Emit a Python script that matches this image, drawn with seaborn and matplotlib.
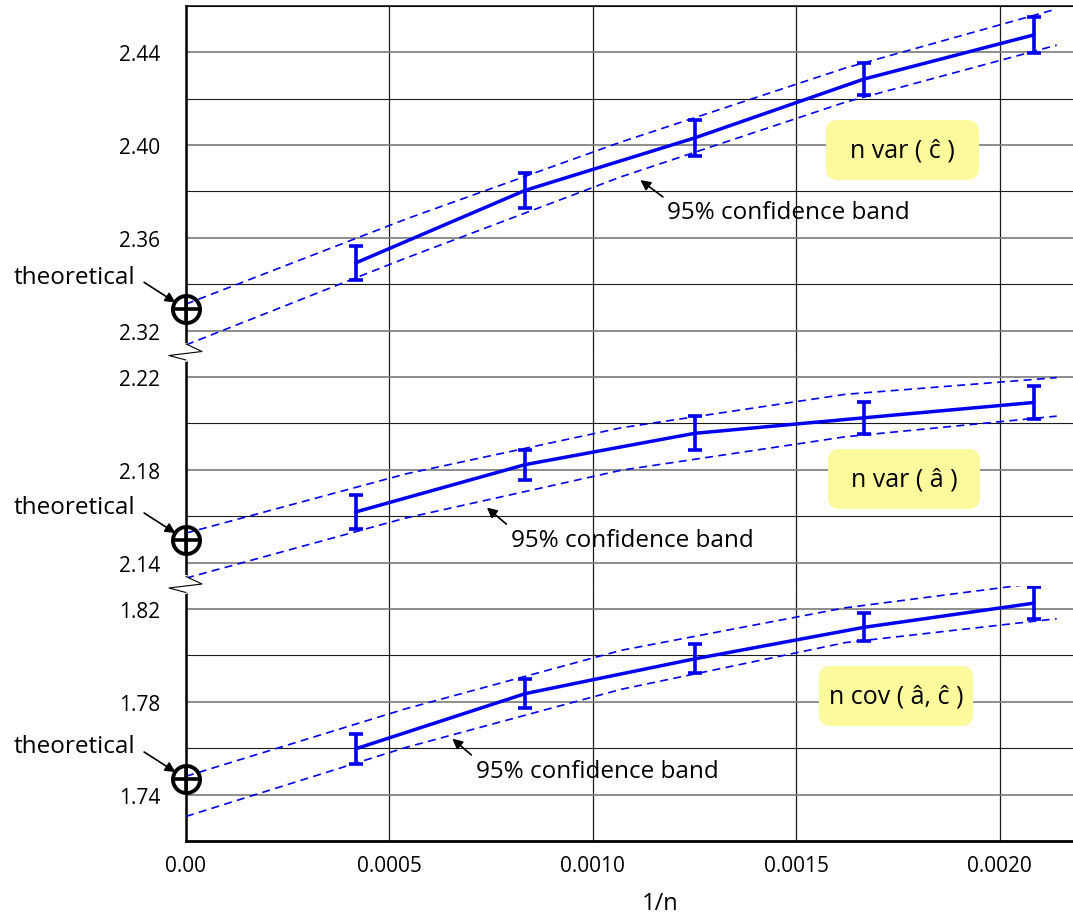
import matplotlib
matplotlib.use("Agg")
import matplotlib.pyplot as plt
from matplotlib.patches import FancyBboxPatch
from matplotlib.lines import Line2D
from matplotlib.ticker import FixedLocator, MultipleLocator
import seaborn as sns

# ---- data -------------------------------------------------------------
# 1/n for sample sizes n = 2400, 1200, 800, 600, 480
inv_n = [1 / 2400, 1 / 1200, 1 / 800, 1 / 600, 1 / 480]

var_c = [2.3491, 2.3804, 2.4030, 2.4284, 2.4474]
var_c_err = [0.0073, 0.0074, 0.0077, 0.0071, 0.0077]
var_a = [2.1618, 2.1822, 2.1957, 2.2024, 2.2090]
var_a_err = [0.0072, 0.0065, 0.0073, 0.0068, 0.0073]
cov_ac = [1.7597, 1.7835, 1.7985, 1.8121, 1.8225]
cov_ac_err = [0.0065, 0.0063, 0.0063, 0.0060, 0.0068]

theory_var_c = 2.3292
theory_var_a = 2.1498
theory_cov_ac = 1.7468

# 95% confidence band, sampled along 1/n
band_x = [0.0, 0.00054, 0.00107, 0.00162, 0.00214]
var_c_upper = [2.3314, 2.3680, 2.4013, 2.4331, 2.4586]
var_c_lower = [2.3138, 2.3512, 2.3863, 2.4184, 2.4430]
var_a_upper = [2.1527, 2.1782, 2.1981, 2.2125, 2.2197]
var_a_lower = [2.1333, 2.1592, 2.1798, 2.1942, 2.2031]
cov_ac_upper = [1.7479, 1.7770, 1.8022, 1.8205, 1.8322]
cov_ac_lower = [1.7306, 1.7603, 1.7854, 1.8055, 1.8158]

panel_labels = ["n var ( ĉ )", "n var ( â )", "n cov ( â, ĉ )"]
ylims = [(2.31, 2.46), (2.13, 2.23), (1.72, 1.83)]
yticks = [[2.32, 2.36, 2.40, 2.44], [2.14, 2.18, 2.22], [1.74, 1.78, 1.82]]
xticks = [0.0, 0.0005, 0.0010, 0.0015, 0.0020]
xtick_labels = ["0.00", "0.0005", "0.0010", "0.0015", "0.0020"]

# ---- style ------------------------------------------------------------
sns.set_theme(style="white")
plt.rcParams["font.family"] = ["Open Sans", "DejaVu Sans"]
plt.rcParams.update({
    "text.color": "black",
    "axes.labelcolor": "black",
    "xtick.color": "black",
    "ytick.color": "black",
})

W, H, DPI = 1073, 920, 100
BLUE = "#0000f0"


def fig_xy(px, py):
    """Canvas pixel (origin top-left) -> figure fraction."""
    return px / W, 1 - py / H


fig = plt.figure(figsize=(W / DPI, H / DPI), dpi=DPI)
gs = fig.add_gridspec(
    3, 1,
    height_ratios=[lim[1] - lim[0] for lim in ylims],
    left=186 / W, right=1.0, top=1 - 6.7 / H, bottom=1 - 842 / H, hspace=0,
)
axes = [fig.add_subplot(gs[0])]
axes += [fig.add_subplot(gs[i], sharex=axes[0]) for i in (1, 2)]

series = [
    (var_c, var_c_err, theory_var_c, var_c_upper, var_c_lower),
    (var_a, var_a_err, theory_var_a, var_a_upper, var_a_lower),
    (cov_ac, cov_ac_err, theory_cov_ac, cov_ac_upper, cov_ac_lower),
]

for i, (ax, (vals, errs, theo, upper, lower)) in enumerate(zip(axes, series)):
    ax.set_ylim(*ylims[i])
    ax.set_xlim(0, 0.00218)

    # grid: labelled levels in grey, intermediate levels in black
    ax.yaxis.set_major_locator(FixedLocator(yticks[i]))
    ax.yaxis.set_minor_locator(MultipleLocator(0.02))
    ax.set_yticklabels([f"{t:.2f}" for t in yticks[i]])
    ax.grid(axis="y", which="major", color="#7a7a7a", lw=1.2, zorder=0)
    ax.grid(axis="y", which="minor", color="#1c1c1c", lw=0.8, zorder=0)
    ax.set_xticks(xticks)
    ax.grid(axis="x", which="major", color="#1c1c1c", lw=0.9, zorder=0)
    ax.set_axisbelow(True)
    ax.tick_params(axis="both", which="both", length=0, labelsize=15)
    ax.tick_params(axis="y", pad=18.5)

    for side in ("top", "right", "bottom"):
        ax.spines[side].set_visible(False)
    ax.spines["left"].set_color("black")
    ax.spines["left"].set_linewidth(1.8)

    # confidence band
    for band in (upper, lower):
        sns.lineplot(x=band_x, y=band, ax=ax, color=BLUE, lw=1.2,
                     linestyle=(0, (4.8, 3.2)), errorbar=None, zorder=3)
    # simulated estimates with error bars
    sns.lineplot(x=inv_n, y=vals, ax=ax, color=BLUE, lw=2.5,
                 errorbar=None, zorder=4)
    ax.errorbar(inv_n, vals, yerr=errs, fmt="none", ecolor=BLUE,
                elinewidth=2.6, capsize=4.8, capthick=2.6, zorder=4)

    # theoretical value at 1/n = 0
    ax.plot([0], [theo], marker="o", ms=19.5, mfc="none", mec="black",
            mew=2.8, ls="none", clip_on=False, zorder=6)
    ax.plot([0], [theo], marker="+", ms=20, mec="black", mew=2.6,
            ls="none", clip_on=False, zorder=6)
    ax.annotate("theoretical", xy=(0, theo), xytext=(-36.7, 23.5),
                textcoords="offset points", ha="right", va="center",
                fontsize=17.5, annotation_clip=False,
                arrowprops=dict(arrowstyle="-|>", color="black", lw=1.2,
                                mutation_scale=15, relpos=(1.0, 0.5),
                                shrinkA=5, shrinkB=9))
    ax.set_xlabel("")
    ax.set_ylabel("")

axes[0].spines["top"].set_visible(True)
axes[0].spines["top"].set_color("black")
axes[0].spines["top"].set_linewidth(1.1)
axes[2].spines["bottom"].set_visible(True)
axes[2].spines["bottom"].set_color("black")
axes[2].spines["bottom"].set_linewidth(2.0)
for ax in axes[:2]:
    ax.tick_params(axis="x", labelbottom=False)
axes[2].set_xticklabels(xtick_labels)
axes[2].tick_params(axis="x", pad=10)

# "95% confidence band" call-outs pointing at the lower band
callouts = [
    ((0.001114, 2.3852), (0.001183, 2.3710)),
    ((0.000737, 2.1641), (0.000798, 2.1498)),
    ((0.000652, 1.7645), (0.000712, 1.7503)),
]
for ax, (tip, txt) in zip(axes, callouts):
    ax.annotate("95% confidence band", xy=tip, xytext=txt,
                ha="left", va="center", fontsize=17.5,
                arrowprops=dict(arrowstyle="-|>", color="black", lw=1.2,
                                mutation_scale=15, relpos=(0.0, 1.0),
                                shrinkA=1, shrinkB=1))

# yellow panel labels (canvas pixels: left, top, right, bottom)
boxes = [(826, 121, 979, 181), (828, 450, 980, 510), (819, 667, 973, 727)]
for label, (x0, y0, x1, y1) in zip(panel_labels, boxes):
    patch = FancyBboxPatch((x0, H - y1), x1 - x0, y1 - y0,
                           boxstyle="round,pad=0,rounding_size=12",
                           fc="#fcfa9c", ec="none", transform=None,
                           zorder=5)
    fig.add_artist(patch)
    cx, cy = fig_xy((x0 + x1) / 2, (y0 + y1) / 2)
    fig.text(cx, cy, label, ha="center", va="center", fontsize=18,
             zorder=6)

# axis-break marks on the left spine
breaks = [345.0, 577.5]
for yb in breaks:
    gap = [fig_xy(186, yb + 0.5), fig_xy(186, yb + 15.5)]
    fig.add_artist(Line2D([p[0] for p in gap], [p[1] for p in gap],
                          color="white", lw=3, zorder=7))
    zz = [fig_xy(186, yb), fig_xy(202, yb + 7.5), fig_xy(169, yb + 11.5),
          fig_xy(186, yb + 16)]
    fig.add_artist(Line2D([p[0] for p in zz], [p[1] for p in zz],
                          color="black", lw=0.8, zorder=8))

fx, fy = fig_xy(660, 904)
fig.text(fx, fy, "1/n", ha="center", va="center", fontsize=17)

fig.savefig("out.png", dpi=DPI)
